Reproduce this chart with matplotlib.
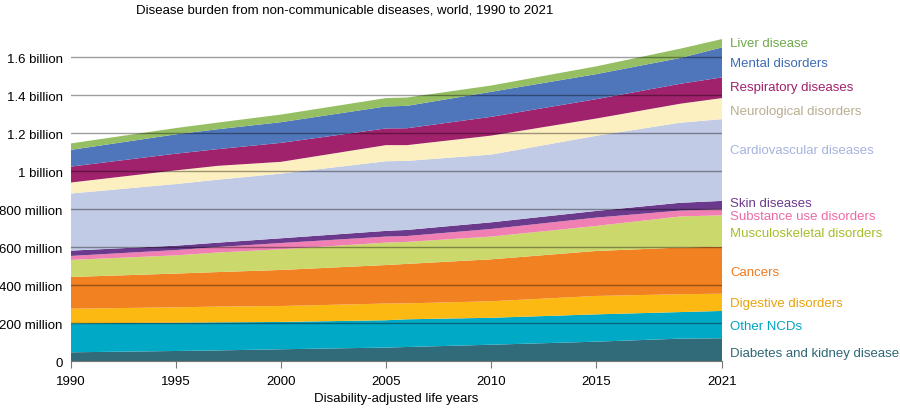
import numpy as np
import matplotlib.pyplot as plt

plt.rcParams['font.family'] = ['Liberation Sans', 'DejaVu Sans']

years = [1990, 1995, 1997, 2000, 2005, 2006, 2010, 2015, 2019, 2021]

# DALYs in millions, bottom layer first
diabetes = [46, 53, 56, 62, 71, 74, 86, 102, 118, 120]
other_ncds = [153, 149, 148, 144, 144, 146, 142, 144, 140, 144]
digestive = [77, 81, 83, 84, 88, 84, 87, 97, 94, 91]
cancers = [167, 178, 182, 190, 203, 208, 221, 237, 246, 248]
musculo = [90, 96, 103, 109, 118, 116, 120, 132, 164, 165]
substance = [21, 28, 29, 33, 32, 31, 40, 44, 31, 32]
skin = [28, 23, 23, 25, 30, 32, 35, 35, 41, 44]
cardio = [301, 325, 332, 341, 367, 364, 357, 396, 422, 431]
neuro = [58, 72, 73, 62, 85, 83, 100, 91, 100, 111]
respiratory = [84, 88, 88, 100, 88, 89, 99, 102, 105, 109]
mental = [88, 102, 105, 109, 116, 118, 132, 132, 136, 158]
liver = [34, 33, 35, 40, 44, 44, 33, 41, 49, 44]

names = ['Diabetes and kidney disease', 'Other NCDs', 'Digestive disorders', 'Cancers',
         'Musculoskeletal disorders', 'Substance use disorders', 'Skin diseases',
         'Cardiovascular diseases', 'Neurological disorders', 'Respiratory diseases',
         'Mental disorders', 'Liver disease']
series = [diabetes, other_ncds, digestive, cancers, musculo, substance, skin,
          cardio, neuro, respiratory, mental, liver]
fill_colors = ['#316a78', '#00a9c6', '#fbb912', '#f18121', '#cbd96c', '#f07fb4',
               '#6b3a8c', '#c2cbe6', '#fdf0c0', '#a0216c', '#4f76bb', '#95bf62']
label_colors = ['#2e6775', '#00a5c2', '#e8a20c', '#f07a1e', '#a4bf2a', '#ee6aa7',
                '#6b3a8c', '#a6b3dd', '#b8ad8f', '#a0216c', '#3d6cb5', '#6fa94b']
label_y = [42, 184, 305, 470, 673, 765, 832, 1110, 1320, 1446, 1570, 1675]

fig = plt.figure(figsize=(9, 4.1), dpi=100)
ax = fig.add_axes([0.0789, 0.117, 0.7233, 0.8098])

ax.stackplot(years, *series, colors=fill_colors, linewidth=0)

ticks = np.arange(0, 1700, 200)
for t in ticks[1:]:
    ax.axhline(t, color='black', alpha=0.38, lw=1, zorder=3)

ax.set_xlim(1990, 2021)
ax.set_ylim(0, 1750)
ax.set_yticks(ticks)
ax.set_yticklabels(['0', '200 million', '400 million', '600 million', '800 million',
                    '1 billion', '1.2 billion', '1.4 billion', '1.6 billion'])
ax.set_xticks([1990, 1995, 2000, 2005, 2010, 2015, 2021])
ax.tick_params(axis='y', length=0, labelsize=9.5, pad=6)
ax.tick_params(axis='x', length=5, labelsize=9.5, color='#777777', pad=5)
for s in ['top', 'right', 'left']:
    ax.spines[s].set_visible(False)
ax.spines['bottom'].set_color('#777777')

for name, c, y in zip(names, label_colors, label_y):
    ax.text(2021.4, y, name, color=c, fontsize=9.5, va='center', ha='left', clip_on=False)

ax.set_xlabel('Disability-adjusted life years', fontsize=9.5, labelpad=4)
fig.text(0.383, 0.975, 'Disease burden from non-communicable diseases, world, 1990 to 2021',
         ha='center', va='center', fontsize=9.5)

fig.savefig('out.png', dpi=100)
